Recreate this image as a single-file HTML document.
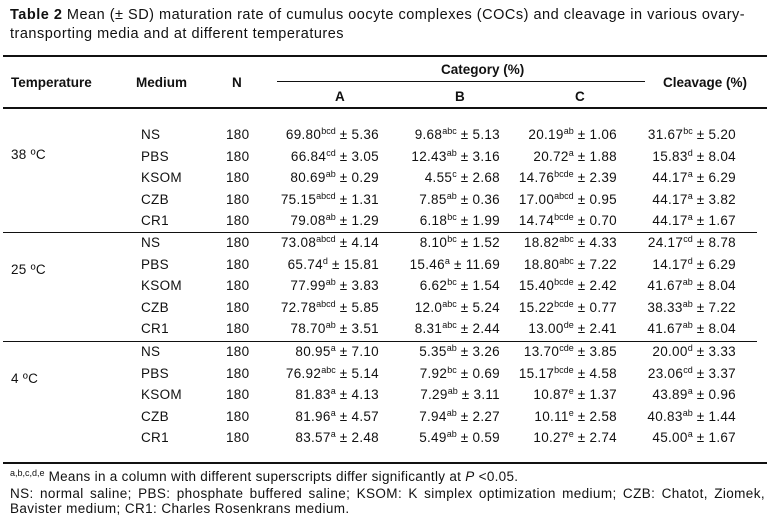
<!DOCTYPE html>
<html><head><meta charset="utf-8"><style>
body{margin:0;width:773px;height:515px;background:#fff;font-family:"Liberation Sans",Arial,sans-serif;color:#111;position:relative;overflow:hidden}
div{position:absolute;white-space:nowrap}
.t{font-size:13.5px;line-height:16px;letter-spacing:0.3px}
.r{text-align:right}
sup{font-size:9px;vertical-align:5px;line-height:0;letter-spacing:0}
.h{font-weight:bold;font-size:13.5px;line-height:16px}
.ln{background:#111;height:1.5px}
</style></head><body>
<div style="left:10px;top:6px;font-size:14.5px;line-height:19px;white-space:normal;width:760px;letter-spacing:0.5px"><b>Table 2</b> Mean (± SD) maturation rate of cumulus oocyte complexes (COCs) and cleavage in various ovary-transporting media and at different temperatures</div>
<div class="ln" style="left:3px;top:55px;width:764px"></div>
<div class="ln" style="left:277px;top:81px;width:368px;height:1px"></div>
<div class="ln" style="left:3px;top:107px;width:764px"></div>
<div class="h" style="left:11px;top:75px">Temperature</div>
<div class="h" style="left:136px;top:75px">Medium</div>
<div class="h" style="left:232px;top:75px">N</div>
<div class="h" style="left:441px;top:62px">Category (%)</div>
<div class="h" style="left:335px;top:89px">A</div>
<div class="h" style="left:455px;top:89px">B</div>
<div class="h" style="left:575px;top:89px">C</div>
<div class="h" style="left:663px;top:75px">Cleavage (%)</div>
<div id="rows"></div>
<div class="ln" style="left:3px;top:232px;width:754px;height:1px"></div>
<div class="ln" style="left:3px;top:341px;width:754px;height:1px"></div>
<div class="ln" style="left:3px;top:462px;width:764px"></div>
<div class="t" style="left:10px;top:469px"><sup>a,b,c,d,e</sup> Means in a column with different superscripts differ significantly at <i>P</i> &lt;0.05.</div>
<div class="t" style="left:10px;top:486px;width:755px;white-space:normal;line-height:15px;text-align:justify;font-size:13.5px;letter-spacing:0.4px">NS: normal saline; PBS: phosphate buffered saline; KSOM: K simplex optimization medium; CZB: Chatot, Ziomek, Bavister medium; CR1: Charles Rosenkrans medium.</div>
<script>
var d=[
["38 ºC",135,155,[
["NS","69.80","bcd","5.36","9.68","abc","5.13","20.19","ab","1.06","31.67","bc","5.20"],
["PBS","66.84","cd","3.05","12.43","ab","3.16","20.72","a","1.88","15.83","d","8.04"],
["KSOM","80.69","ab","0.29","4.55","c","2.68","14.76","bcde","2.39","44.17","a","6.29"],
["CZB","75.15","abcd","1.31","7.85","ab","0.36","17.00","abcd","0.95","44.17","a","3.82"],
["CR1","79.08","ab","1.29","6.18","bc","1.99","14.74","bcde","0.70","44.17","a","1.67"]]],
["25 ºC",243,270,[
["NS","73.08","abcd","4.14","8.10","bc","1.52","18.82","abc","4.33","24.17","cd","8.78"],
["PBS","65.74","d","15.81","15.46","a","11.69","18.80","abc","7.22","14.17","d","6.29"],
["KSOM","77.99","ab","3.83","6.62","bc","1.54","15.40","bcde","2.42","41.67","ab","8.04"],
["CZB","72.78","abcd","5.85","12.0","abc","5.24","15.22","bcde","0.77","38.33","ab","7.22"],
["CR1","78.70","ab","3.51","8.31","abc","2.44","13.00","de","2.41","41.67","ab","8.04"]]],
["4 ºC",352,379,[
["NS","80.95","a","7.10","5.35","ab","3.26","13.70","cde","3.85","20.00","d","3.33"],
["PBS","76.92","abc","5.14","7.92","bc","0.69","15.17","bcde","4.58","23.06","cd","3.37"],
["KSOM","81.83","a","4.13","7.29","ab","3.11","10.87","e","1.37","43.89","a","0.96"],
["CZB","81.96","a","4.57","7.94","ab","2.27","10.11","e","2.58","40.83","ab","1.44"],
["CR1","83.57","a","2.48","5.49","ab","0.59","10.27","e","2.74","45.00","a","1.67"]]]];
var h="",rights=[379,500,617,736];
d.forEach(function(s){
 var y0=s[1];
 h+='<div class="t" style="left:11px;top:'+(s[2]-8)+'px">'+s[0]+'</div>';
 s[3].forEach(function(r,i){
  var y=y0+i*21.6-8;
  h+='<div class="t" style="left:141px;top:'+y+'px">'+r[0]+'</div>';
  h+='<div class="t" style="left:226px;top:'+y+'px">180</div>';
  for(var k=0;k<4;k++){
   h+='<div class="t r" style="right:'+(773-rights[k])+'px;top:'+y+'px">'+r[1+k*3]+'<sup>'+r[2+k*3]+'</sup> ± '+r[3+k*3]+'</div>';
  }
 });
});
document.getElementById("rows").outerHTML=h;
</script>
</body></html>
